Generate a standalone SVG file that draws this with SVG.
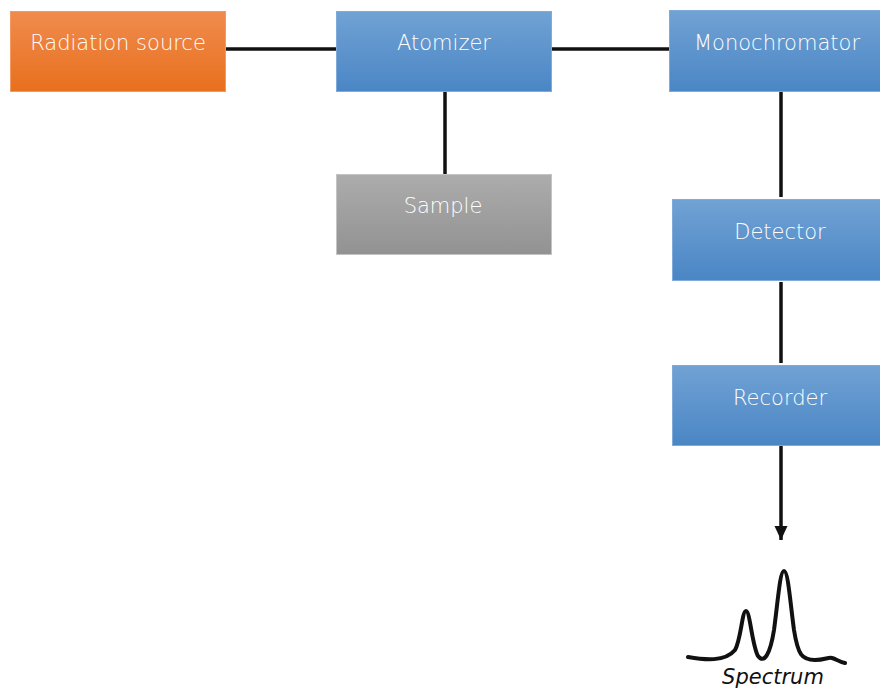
<svg xmlns="http://www.w3.org/2000/svg" width="880" height="690" viewBox="0 0 880 690">
  <defs>
    <linearGradient id="gOrange" x1="0" y1="0" x2="0" y2="1">
      <stop offset="0" stop-color="#F08B4E"/>
      <stop offset="1" stop-color="#E8701D"/>
    </linearGradient>
    <linearGradient id="gBlue" x1="0" y1="0" x2="0" y2="1">
      <stop offset="0" stop-color="#71A2D4"/>
      <stop offset="1" stop-color="#4A86C5"/>
    </linearGradient>
    <linearGradient id="gGray" x1="0" y1="0" x2="0" y2="1">
      <stop offset="0" stop-color="#ACACAC"/>
      <stop offset="1" stop-color="#929292"/>
    </linearGradient>
    <!-- arrowhead, drawn along the path direction -->
    <marker id="arrow" markerWidth="16" markerHeight="16" refX="14" refY="7" orient="auto" markerUnits="userSpaceOnUse" viewBox="0 0 16 14">
      <path d="M0,0.5 L14,7 L0,13.5 Z" fill="#111"/>
    </marker>
  </defs>
  <style>
    .box { stroke-width: 1; }
    .blue { fill: url(#gBlue); stroke: #7FAADA; }
    .orange { fill: url(#gOrange); stroke: #F29A62; }
    .gray { fill: url(#gGray); stroke: #C4C4C4; }
    .label { font-family: "DejaVu Sans", "Liberation Sans", sans-serif; font-weight: 200; font-size: 21px; fill: #FFFFFF; text-anchor: middle; }
    .wire { stroke: #111; stroke-width: 3.5; fill: none; }
    .curve { stroke: #111; stroke-width: 4; fill: none; stroke-linecap: round; }
    .caption { font-family: "DejaVu Sans", "Liberation Sans", sans-serif; font-weight: 200; font-size: 21px; font-style: italic; fill: #111; text-anchor: middle; }
  </style>
  <rect width="880" height="690" fill="#FFFFFF"/>

  <!-- connectors -->
  <g id="connectors">
    <line class="wire" x1="226" y1="49" x2="336" y2="49"/>
    <line class="wire" x1="551" y1="49" x2="669" y2="49"/>
    <line class="wire" x1="445" y1="91" x2="445" y2="174"/>
    <line class="wire" x1="781" y1="91" x2="781" y2="197"/>
    <line class="wire" x1="781" y1="282" x2="781" y2="363"/>
    <line class="wire" x1="781" y1="446" x2="781" y2="540" marker-end="url(#arrow)"/>
  </g>

  <g id="radiation-source">
    <rect class="box orange" x="10.5" y="11.5" width="215" height="80"/>
    <text class="label" x="118" y="50">Radiation source</text>
  </g>
  <g id="atomizer">
    <rect class="box blue" x="336.5" y="11.5" width="215" height="80"/>
    <text class="label" x="444" y="50">Atomizer</text>
  </g>
  <g id="monochromator">
    <rect class="box blue" x="669.5" y="10.5" width="215" height="81"/>
    <text class="label" x="777" y="50">Monochromator</text>
  </g>
  <g id="sample">
    <rect class="box gray" x="336.5" y="174.5" width="215" height="80"/>
    <text class="label" x="443" y="213">Sample</text>
  </g>
  <g id="detector">
    <rect class="box blue" x="672.5" y="199.5" width="215" height="81"/>
    <text class="label" x="780" y="239">Detector</text>
  </g>
  <g id="recorder">
    <rect class="box blue" x="672.5" y="365.5" width="215" height="80"/>
    <text class="label" x="780" y="405">Recorder</text>
  </g>

  <g id="spectrum">
    <path class="curve" d="M688,657 C705,660 725,662 735,650 C741,640 742,611 746,611 C750,611 752,645 758,656 C764,664 770,655 774,630 C778,600 780,571 784,571 C788,571 790,600 794,630 C798,655 802,660 815,660 C825,660 828,657 832,658 C836,659 840,662 845,663"/>
    <text class="caption" x="773" y="684">Spectrum</text>
  </g>
</svg>
